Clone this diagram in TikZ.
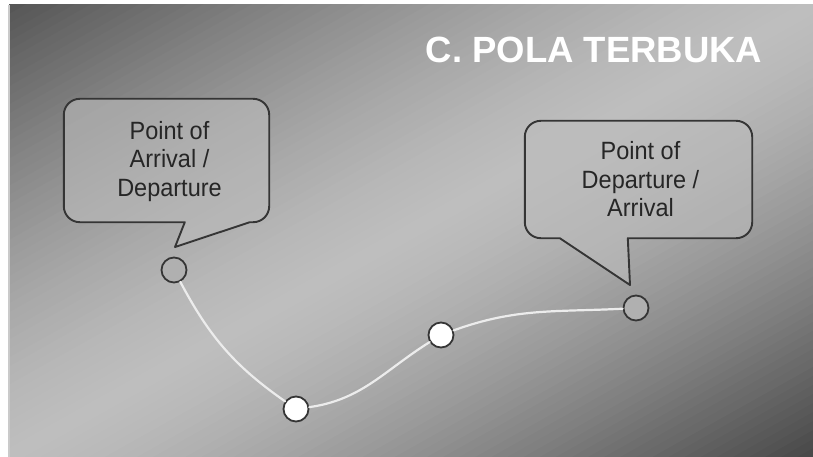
\documentclass[tikz,border=0pt]{standalone}
\usepackage{fontspec}
\setmainfont{Liberation Sans}
\newfontfamily\narrowfont[FakeStretch=0.94]{Liberation Sans}
\usetikzlibrary{calc}
\definecolor{bgdark}{HTML}{555555}
\definecolor{bglight}{HTML}{BEBEBE}
\definecolor{bgdarkb}{HTML}{474747}
\definecolor{edgec}{HTML}{353535}
\definecolor{txtc}{HTML}{262626}
\definecolor{boxfill}{HTML}{BCBCBC}
\definecolor{dotgray}{HTML}{B0B0B0}
\definecolor{trailc}{HTML}{ECECEC}
\definecolor{stripc}{HTML}{CACACA}
\begin{document}
\begin{tikzpicture}[x=1pt,y=1pt,
  bubble/.style={draw=edgec, line width=1.9pt, fill=boxfill, fill opacity=0.6, line join=round},
  boxarea/.style={rectangle, draw=none, inner sep=0pt},
  bubbletext/.style={inner sep=0pt, align=center, text=txtc, font=\narrowfont\fontsize{25}{28.5}\selectfont},
  titletext/.style={anchor=base, inner sep=0pt, text=white, font=\fontsize{36.5}{40}\selectfont\bfseries},
  graydot/.style={circle, minimum size=25pt, inner sep=0pt, draw=edgec, line width=1.8pt, fill=dotgray},
  whitedot/.style={graydot, fill=white},
  trail/.style={draw=trailc, line width=2.2pt, line cap=round}
]
\useasboundingbox (0,0) rectangle (813,-457);
\fill[white] (0,0) rectangle (813,-457);
\begin{scope}
  \clip (9,-5) rectangle (813,-457);
  \foreach \i in {0,...,99}{
    \pgfmathsetmacro{\a}{-394+\i*7.88}
    \pgfmathsetmacro{\amid}{\a+3.94}
    \pgfmathsetmacro{\p}{max(0,min(100,100-(abs(\amid)/394)^1.4*100))}
    \ifdim\amid pt>0pt
      \colorlet{bandc}{bglight!\p!bgdark}
    \else
      \colorlet{bandc}{bglight!\p!bgdarkb}
    \fi
    \fill[bandc, rotate around={29.3:(411,-231)}]
      (-70,-231+\a) rectangle (892,-231+\a+8.8);
  }
\end{scope}
\fill[stripc] (8,-5) rectangle (10,-457);

% title
\node[titletext] (T) at (594,-63) {C. POLA TERBUKA};

% left callout
\node[boxarea, minimum width=205pt, minimum height=123pt] (L) at (166.5,-160.5) {};
\coordinate (tipL) at (175,-247);
\draw[bubble] ($(L.south west)+(186,0)$) -- ($(L.south east)+(-16,0)$)
  arc[start angle=-90,end angle=0,radius=16] -- ($(L.north east)+(0,-16)$)
  arc[start angle=0,end angle=90,radius=16] -- ($(L.north west)+(16,0)$)
  arc[start angle=90,end angle=180,radius=16] -- ($(L.south west)+(0,16)$)
  arc[start angle=180,end angle=270,radius=16] -- ($(L.south west)+(121,0)$)
  -- (tipL) -- cycle;
\node[bubbletext] (Ltext) at ($(L.center)+(3,-1)$) {Point of\\Arrival /\\Departure};

% right callout
\node[boxarea, minimum width=227pt, minimum height=117pt] (R) at (638.5,-179.5) {};
\coordinate (tipR) at (630,-285);
\draw[bubble] ($(R.south west)+(103,0)$) -- ($(R.south east)+(-16,0)$)
  arc[start angle=-90,end angle=0,radius=16] -- ($(R.north east)+(0,-16)$)
  arc[start angle=0,end angle=90,radius=16] -- ($(R.north west)+(16,0)$)
  arc[start angle=90,end angle=180,radius=16] -- ($(R.south west)+(0,16)$)
  arc[start angle=180,end angle=270,radius=16] -- ($(R.south west)+(35,0)$)
  -- (tipR) -- cycle;
\node[bubbletext] (Rtext) at ($(R.center)+(2,0)$) {Point of\\Departure /\\Arrival};

% points
\node[graydot] (c1) at (174,-270) {};
\node[whitedot] (c2) at (296,-409) {};
\node[whitedot] (c3) at (441,-335) {};
\node[graydot] (c4) at (636,-308) {};

% trail
\draw[trail] (c1) to[out=-62,in=145] (c2) to[out=8,in=-148] (c3) to[out=20,in=183] (c4);
\end{tikzpicture}
\end{document}
